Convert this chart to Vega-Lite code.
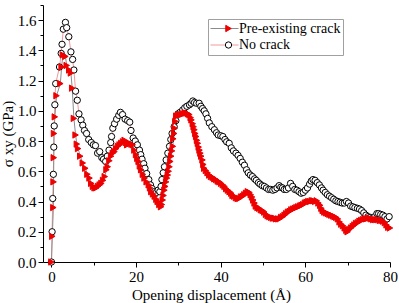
{
"$schema": "https://vega.github.io/schema/vega-lite/v6.json",
"width": 347, "height": 257,
"autosize": {"type": "none"},
"padding": {"left": 43, "top": 5, "right": 9, "bottom": 41},
"background": "white",
"config": {
  "font": "Liberation Serif",
  "view": {"stroke": null},
  "axis": {"labelFont": "Liberation Serif", "labelFontSize": 15, "labelColor": "black", "labelFlush": false, "labelOverlap": false, "titleFont": "Liberation Serif", "titleFontSize": 15, "titleFontWeight": "normal", "titleColor": "black", "domainColor": "black", "domainWidth": 1, "tickColor": "black", "tickWidth": 1, "grid": false}
},
"data": {"values": [
{"x":0.0,"y":0.0,"series":"No crack"},{"x":0.15,"y":0.2,"series":"No crack"},{"x":0.3,"y":0.42,"series":"No crack"},{"x":0.45,"y":0.58,"series":"No crack"},{"x":0.55,"y":0.76,"series":"No crack"},{"x":0.65,"y":0.9,"series":"No crack"},{"x":0.8,"y":1.04,"series":"No crack"},{"x":1.0,"y":1.18,"series":"No crack"},{"x":1.9,"y":1.29,"series":"No crack"},{"x":2.3,"y":1.38,"series":"No crack"},{"x":2.5,"y":1.44,"series":"No crack"},{"x":2.8,"y":1.54,"series":"No crack"},{"x":3.3,"y":1.585,"series":"No crack"},{"x":3.6,"y":1.55,"series":"No crack"},{"x":4.1,"y":1.49,"series":"No crack"},{"x":4.6,"y":1.39,"series":"No crack"},{"x":5.0,"y":1.34,"series":"No crack"},{"x":5.3,"y":1.27,"series":"No crack"},{"x":5.7,"y":1.13,"series":"No crack"},{"x":6.1,"y":1.07,"series":"No crack"},{"x":6.5,"y":0.98,"series":"No crack"},{"x":7.0,"y":0.94,"series":"No crack"},{"x":7.4,"y":0.905,"series":"No crack"},{"x":7.8,"y":0.87,"series":"No crack"},{"x":8.3,"y":0.85,"series":"No crack"},{"x":8.8,"y":0.81,"series":"No crack"},{"x":9.4,"y":0.79,"series":"No crack"},{"x":9.9,"y":0.775,"series":"No crack"},{"x":10.4,"y":0.77,"series":"No crack"},{"x":10.9,"y":0.72,"series":"No crack"},{"x":11.4,"y":0.73,"series":"No crack"},{"x":11.9,"y":0.69,"series":"No crack"},{"x":12.3,"y":0.68,"series":"No crack"},{"x":12.8,"y":0.665,"series":"No crack"},{"x":13.2,"y":0.7,"series":"No crack"},{"x":13.6,"y":0.74,"series":"No crack"},{"x":14.0,"y":0.79,"series":"No crack"},{"x":14.2,"y":0.83,"series":"No crack"},{"x":14.5,"y":0.885,"series":"No crack"},{"x":14.9,"y":0.915,"series":"No crack"},{"x":15.4,"y":0.945,"series":"No crack"},{"x":15.9,"y":0.97,"series":"No crack"},{"x":16.3,"y":0.99,"series":"No crack"},{"x":16.8,"y":0.975,"series":"No crack"},{"x":17.4,"y":0.945,"series":"No crack"},{"x":18.0,"y":0.935,"series":"No crack"},{"x":18.5,"y":0.925,"series":"No crack"},{"x":18.8,"y":0.87,"series":"No crack"},{"x":19.3,"y":0.82,"series":"No crack"},{"x":19.8,"y":0.8,"series":"No crack"},{"x":20.3,"y":0.775,"series":"No crack"},{"x":20.8,"y":0.74,"series":"No crack"},{"x":21.1,"y":0.71,"series":"No crack"},{"x":21.4,"y":0.68,"series":"No crack"},{"x":21.8,"y":0.65,"series":"No crack"},{"x":22.1,"y":0.62,"series":"No crack"},{"x":22.5,"y":0.585,"series":"No crack"},{"x":23.0,"y":0.545,"series":"No crack"},{"x":23.4,"y":0.51,"series":"No crack"},{"x":23.8,"y":0.485,"series":"No crack"},{"x":24.3,"y":0.465,"series":"No crack"},{"x":24.8,"y":0.46,"series":"No crack"},{"x":25.2,"y":0.475,"series":"No crack"},{"x":25.6,"y":0.465,"series":"No crack"},{"x":25.9,"y":0.5,"series":"No crack"},{"x":26.1,"y":0.545,"series":"No crack"},{"x":26.4,"y":0.59,"series":"No crack"},{"x":26.7,"y":0.63,"series":"No crack"},{"x":27.1,"y":0.675,"series":"No crack"},{"x":27.5,"y":0.72,"series":"No crack"},{"x":27.9,"y":0.765,"series":"No crack"},{"x":28.2,"y":0.81,"series":"No crack"},{"x":28.5,"y":0.85,"series":"No crack"},{"x":29.0,"y":0.895,"series":"No crack"},{"x":29.4,"y":0.935,"series":"No crack"},{"x":29.9,"y":0.98,"series":"No crack"},{"x":30.4,"y":0.99,"series":"No crack"},{"x":31.0,"y":1.005,"series":"No crack"},{"x":31.5,"y":1.02,"series":"No crack"},{"x":32.0,"y":1.03,"series":"No crack"},{"x":32.6,"y":1.04,"series":"No crack"},{"x":33.0,"y":1.05,"series":"No crack"},{"x":33.4,"y":1.065,"series":"No crack"},{"x":33.8,"y":1.055,"series":"No crack"},{"x":34.3,"y":1.05,"series":"No crack"},{"x":34.9,"y":1.05,"series":"No crack"},{"x":35.3,"y":1.03,"series":"No crack"},{"x":35.7,"y":1.015,"series":"No crack"},{"x":36.1,"y":1.0,"series":"No crack"},{"x":36.5,"y":0.98,"series":"No crack"},{"x":36.9,"y":0.95,"series":"No crack"},{"x":37.3,"y":0.92,"series":"No crack"},{"x":37.9,"y":0.895,"series":"No crack"},{"x":38.5,"y":0.875,"series":"No crack"},{"x":39.0,"y":0.855,"series":"No crack"},{"x":39.4,"y":0.84,"series":"No crack"},{"x":40.0,"y":0.835,"series":"No crack"},{"x":40.5,"y":0.83,"series":"No crack"},{"x":41.0,"y":0.81,"series":"No crack"},{"x":41.4,"y":0.795,"series":"No crack"},{"x":42.0,"y":0.785,"series":"No crack"},{"x":42.5,"y":0.755,"series":"No crack"},{"x":43.0,"y":0.735,"series":"No crack"},{"x":43.6,"y":0.72,"series":"No crack"},{"x":44.1,"y":0.705,"series":"No crack"},{"x":44.6,"y":0.685,"series":"No crack"},{"x":45.1,"y":0.66,"series":"No crack"},{"x":45.6,"y":0.64,"series":"No crack"},{"x":46.1,"y":0.61,"series":"No crack"},{"x":46.5,"y":0.59,"series":"No crack"},{"x":47.0,"y":0.575,"series":"No crack"},{"x":47.5,"y":0.565,"series":"No crack"},{"x":48.0,"y":0.55,"series":"No crack"},{"x":48.4,"y":0.54,"series":"No crack"},{"x":48.9,"y":0.525,"series":"No crack"},{"x":49.3,"y":0.515,"series":"No crack"},{"x":49.8,"y":0.505,"series":"No crack"},{"x":50.3,"y":0.5,"series":"No crack"},{"x":50.8,"y":0.49,"series":"No crack"},{"x":51.3,"y":0.48,"series":"No crack"},{"x":51.8,"y":0.48,"series":"No crack"},{"x":52.3,"y":0.475,"series":"No crack"},{"x":52.8,"y":0.48,"series":"No crack"},{"x":53.3,"y":0.49,"series":"No crack"},{"x":53.8,"y":0.505,"series":"No crack"},{"x":54.2,"y":0.495,"series":"No crack"},{"x":54.6,"y":0.49,"series":"No crack"},{"x":55.0,"y":0.48,"series":"No crack"},{"x":55.5,"y":0.48,"series":"No crack"},{"x":56.0,"y":0.49,"series":"No crack"},{"x":56.5,"y":0.52,"series":"No crack"},{"x":57.0,"y":0.5,"series":"No crack"},{"x":57.5,"y":0.48,"series":"No crack"},{"x":58.0,"y":0.475,"series":"No crack"},{"x":58.5,"y":0.465,"series":"No crack"},{"x":59.0,"y":0.455,"series":"No crack"},{"x":59.5,"y":0.46,"series":"No crack"},{"x":60.0,"y":0.475,"series":"No crack"},{"x":60.5,"y":0.49,"series":"No crack"},{"x":61.0,"y":0.515,"series":"No crack"},{"x":61.4,"y":0.535,"series":"No crack"},{"x":61.8,"y":0.545,"series":"No crack"},{"x":62.3,"y":0.54,"series":"No crack"},{"x":62.8,"y":0.525,"series":"No crack"},{"x":63.3,"y":0.51,"series":"No crack"},{"x":63.8,"y":0.49,"series":"No crack"},{"x":64.2,"y":0.475,"series":"No crack"},{"x":64.7,"y":0.46,"series":"No crack"},{"x":65.2,"y":0.445,"series":"No crack"},{"x":65.7,"y":0.435,"series":"No crack"},{"x":66.2,"y":0.425,"series":"No crack"},{"x":66.7,"y":0.415,"series":"No crack"},{"x":67.2,"y":0.405,"series":"No crack"},{"x":67.7,"y":0.4,"series":"No crack"},{"x":68.2,"y":0.395,"series":"No crack"},{"x":68.7,"y":0.39,"series":"No crack"},{"x":69.2,"y":0.39,"series":"No crack"},{"x":69.7,"y":0.4,"series":"No crack"},{"x":70.2,"y":0.39,"series":"No crack"},{"x":70.7,"y":0.37,"series":"No crack"},{"x":71.2,"y":0.365,"series":"No crack"},{"x":71.7,"y":0.36,"series":"No crack"},{"x":72.3,"y":0.355,"series":"No crack"},{"x":72.8,"y":0.35,"series":"No crack"},{"x":73.3,"y":0.34,"series":"No crack"},{"x":73.8,"y":0.325,"series":"No crack"},{"x":74.3,"y":0.31,"series":"No crack"},{"x":74.8,"y":0.3,"series":"No crack"},{"x":75.3,"y":0.295,"series":"No crack"},{"x":75.9,"y":0.29,"series":"No crack"},{"x":76.4,"y":0.3,"series":"No crack"},{"x":76.9,"y":0.32,"series":"No crack"},{"x":77.3,"y":0.32,"series":"No crack"},{"x":77.8,"y":0.315,"series":"No crack"},{"x":78.3,"y":0.31,"series":"No crack"},{"x":78.8,"y":0.3,"series":"No crack"},{"x":79.3,"y":0.285,"series":"No crack"},{"x":79.8,"y":0.3,"series":"No crack"},
{"x":0.0,"y":0.0,"series":"Pre-existing crack"},{"x":0.2,"y":0.17,"series":"Pre-existing crack"},{"x":0.45,"y":0.36,"series":"Pre-existing crack"},{"x":0.5,"y":0.53,"series":"Pre-existing crack"},{"x":0.55,"y":0.69,"series":"Pre-existing crack"},{"x":0.6,"y":0.85,"series":"Pre-existing crack"},{"x":0.8,"y":0.96,"series":"Pre-existing crack"},{"x":1.2,"y":1.1,"series":"Pre-existing crack"},{"x":2.1,"y":1.18,"series":"Pre-existing crack"},{"x":2.4,"y":1.29,"series":"Pre-existing crack"},{"x":2.7,"y":1.37,"series":"Pre-existing crack"},{"x":3.3,"y":1.36,"series":"Pre-existing crack"},{"x":3.6,"y":1.3,"series":"Pre-existing crack"},{"x":4.2,"y":1.27,"series":"Pre-existing crack"},{"x":4.6,"y":1.25,"series":"Pre-existing crack"},{"x":4.9,"y":1.15,"series":"Pre-existing crack"},{"x":5.3,"y":0.95,"series":"Pre-existing crack"},{"x":5.7,"y":0.84,"series":"Pre-existing crack"},{"x":6.0,"y":0.78,"series":"Pre-existing crack"},{"x":6.3,"y":0.75,"series":"Pre-existing crack"},{"x":6.8,"y":0.7,"series":"Pre-existing crack"},{"x":7.4,"y":0.655,"series":"Pre-existing crack"},{"x":8.0,"y":0.62,"series":"Pre-existing crack"},{"x":8.5,"y":0.58,"series":"Pre-existing crack"},{"x":9.0,"y":0.555,"series":"Pre-existing crack"},{"x":9.4,"y":0.52,"series":"Pre-existing crack"},{"x":9.8,"y":0.5,"series":"Pre-existing crack"},{"x":10.2,"y":0.49,"series":"Pre-existing crack"},{"x":10.6,"y":0.49,"series":"Pre-existing crack"},{"x":11.0,"y":0.5,"series":"Pre-existing crack"},{"x":11.4,"y":0.51,"series":"Pre-existing crack"},{"x":11.8,"y":0.52,"series":"Pre-existing crack"},{"x":12.2,"y":0.54,"series":"Pre-existing crack"},{"x":12.6,"y":0.565,"series":"Pre-existing crack"},{"x":13.0,"y":0.61,"series":"Pre-existing crack"},{"x":13.3,"y":0.63,"series":"Pre-existing crack"},{"x":13.7,"y":0.67,"series":"Pre-existing crack"},{"x":14.1,"y":0.7,"series":"Pre-existing crack"},{"x":14.5,"y":0.72,"series":"Pre-existing crack"},{"x":14.9,"y":0.73,"series":"Pre-existing crack"},{"x":15.3,"y":0.75,"series":"Pre-existing crack"},{"x":15.7,"y":0.765,"series":"Pre-existing crack"},{"x":16.1,"y":0.775,"series":"Pre-existing crack"},{"x":16.5,"y":0.785,"series":"Pre-existing crack"},{"x":16.9,"y":0.795,"series":"Pre-existing crack"},{"x":17.3,"y":0.805,"series":"Pre-existing crack"},{"x":17.6,"y":0.79,"series":"Pre-existing crack"},{"x":17.9,"y":0.775,"series":"Pre-existing crack"},{"x":18.2,"y":0.785,"series":"Pre-existing crack"},{"x":18.5,"y":0.785,"series":"Pre-existing crack"},{"x":18.9,"y":0.78,"series":"Pre-existing crack"},{"x":19.2,"y":0.775,"series":"Pre-existing crack"},{"x":19.6,"y":0.74,"series":"Pre-existing crack"},{"x":20.0,"y":0.71,"series":"Pre-existing crack"},{"x":20.3,"y":0.685,"series":"Pre-existing crack"},{"x":20.6,"y":0.665,"series":"Pre-existing crack"},{"x":20.9,"y":0.635,"series":"Pre-existing crack"},{"x":21.2,"y":0.61,"series":"Pre-existing crack"},{"x":21.6,"y":0.58,"series":"Pre-existing crack"},{"x":22.0,"y":0.555,"series":"Pre-existing crack"},{"x":22.5,"y":0.53,"series":"Pre-existing crack"},{"x":23.0,"y":0.51,"series":"Pre-existing crack"},{"x":23.3,"y":0.49,"series":"Pre-existing crack"},{"x":23.6,"y":0.465,"series":"Pre-existing crack"},{"x":24.0,"y":0.45,"series":"Pre-existing crack"},{"x":24.4,"y":0.435,"series":"Pre-existing crack"},{"x":24.8,"y":0.415,"series":"Pre-existing crack"},{"x":25.1,"y":0.4,"series":"Pre-existing crack"},{"x":25.5,"y":0.38,"series":"Pre-existing crack"},{"x":25.9,"y":0.365,"series":"Pre-existing crack"},{"x":26.1,"y":0.38,"series":"Pre-existing crack"},{"x":26.3,"y":0.41,"series":"Pre-existing crack"},{"x":26.5,"y":0.44,"series":"Pre-existing crack"},{"x":26.7,"y":0.475,"series":"Pre-existing crack"},{"x":26.9,"y":0.5,"series":"Pre-existing crack"},{"x":27.1,"y":0.53,"series":"Pre-existing crack"},{"x":27.3,"y":0.555,"series":"Pre-existing crack"},{"x":27.5,"y":0.575,"series":"Pre-existing crack"},{"x":27.7,"y":0.6,"series":"Pre-existing crack"},{"x":27.9,"y":0.63,"series":"Pre-existing crack"},{"x":28.1,"y":0.665,"series":"Pre-existing crack"},{"x":28.3,"y":0.7,"series":"Pre-existing crack"},{"x":28.5,"y":0.735,"series":"Pre-existing crack"},{"x":28.7,"y":0.765,"series":"Pre-existing crack"},{"x":28.8,"y":0.815,"series":"Pre-existing crack"},{"x":29.0,"y":0.85,"series":"Pre-existing crack"},{"x":29.1,"y":0.885,"series":"Pre-existing crack"},{"x":29.3,"y":0.93,"series":"Pre-existing crack"},{"x":29.5,"y":0.965,"series":"Pre-existing crack"},{"x":29.9,"y":0.97,"series":"Pre-existing crack"},{"x":30.3,"y":0.975,"series":"Pre-existing crack"},{"x":30.7,"y":0.975,"series":"Pre-existing crack"},{"x":31.1,"y":0.98,"series":"Pre-existing crack"},{"x":31.5,"y":0.985,"series":"Pre-existing crack"},{"x":31.9,"y":0.985,"series":"Pre-existing crack"},{"x":32.3,"y":0.98,"series":"Pre-existing crack"},{"x":32.6,"y":0.975,"series":"Pre-existing crack"},{"x":32.9,"y":0.955,"series":"Pre-existing crack"},{"x":33.1,"y":0.94,"series":"Pre-existing crack"},{"x":33.4,"y":0.915,"series":"Pre-existing crack"},{"x":33.6,"y":0.895,"series":"Pre-existing crack"},{"x":33.8,"y":0.875,"series":"Pre-existing crack"},{"x":34.0,"y":0.85,"series":"Pre-existing crack"},{"x":34.2,"y":0.83,"series":"Pre-existing crack"},{"x":34.4,"y":0.805,"series":"Pre-existing crack"},{"x":34.6,"y":0.785,"series":"Pre-existing crack"},{"x":34.8,"y":0.76,"series":"Pre-existing crack"},{"x":35.0,"y":0.74,"series":"Pre-existing crack"},{"x":35.2,"y":0.72,"series":"Pre-existing crack"},{"x":35.4,"y":0.7,"series":"Pre-existing crack"},{"x":35.7,"y":0.675,"series":"Pre-existing crack"},{"x":35.9,"y":0.645,"series":"Pre-existing crack"},{"x":36.1,"y":0.62,"series":"Pre-existing crack"},{"x":36.5,"y":0.605,"series":"Pre-existing crack"},{"x":36.9,"y":0.59,"series":"Pre-existing crack"},{"x":37.3,"y":0.575,"series":"Pre-existing crack"},{"x":37.7,"y":0.565,"series":"Pre-existing crack"},{"x":38.1,"y":0.56,"series":"Pre-existing crack"},{"x":38.5,"y":0.55,"series":"Pre-existing crack"},{"x":38.9,"y":0.545,"series":"Pre-existing crack"},{"x":39.3,"y":0.535,"series":"Pre-existing crack"},{"x":39.7,"y":0.53,"series":"Pre-existing crack"},{"x":40.1,"y":0.52,"series":"Pre-existing crack"},{"x":40.5,"y":0.51,"series":"Pre-existing crack"},{"x":40.9,"y":0.5,"series":"Pre-existing crack"},{"x":41.3,"y":0.485,"series":"Pre-existing crack"},{"x":41.7,"y":0.475,"series":"Pre-existing crack"},{"x":42.1,"y":0.465,"series":"Pre-existing crack"},{"x":42.5,"y":0.455,"series":"Pre-existing crack"},{"x":42.8,"y":0.44,"series":"Pre-existing crack"},{"x":43.2,"y":0.435,"series":"Pre-existing crack"},{"x":43.6,"y":0.425,"series":"Pre-existing crack"},{"x":44.0,"y":0.42,"series":"Pre-existing crack"},{"x":44.4,"y":0.42,"series":"Pre-existing crack"},{"x":44.8,"y":0.43,"series":"Pre-existing crack"},{"x":45.2,"y":0.435,"series":"Pre-existing crack"},{"x":45.6,"y":0.445,"series":"Pre-existing crack"},{"x":46.0,"y":0.455,"series":"Pre-existing crack"},{"x":46.4,"y":0.465,"series":"Pre-existing crack"},{"x":46.8,"y":0.46,"series":"Pre-existing crack"},{"x":47.1,"y":0.445,"series":"Pre-existing crack"},{"x":47.4,"y":0.43,"series":"Pre-existing crack"},{"x":47.7,"y":0.41,"series":"Pre-existing crack"},{"x":48.0,"y":0.39,"series":"Pre-existing crack"},{"x":48.3,"y":0.37,"series":"Pre-existing crack"},{"x":48.7,"y":0.36,"series":"Pre-existing crack"},{"x":49.1,"y":0.355,"series":"Pre-existing crack"},{"x":49.5,"y":0.345,"series":"Pre-existing crack"},{"x":49.9,"y":0.34,"series":"Pre-existing crack"},{"x":50.3,"y":0.33,"series":"Pre-existing crack"},{"x":50.7,"y":0.315,"series":"Pre-existing crack"},{"x":51.1,"y":0.305,"series":"Pre-existing crack"},{"x":51.5,"y":0.3,"series":"Pre-existing crack"},{"x":51.9,"y":0.295,"series":"Pre-existing crack"},{"x":52.3,"y":0.29,"series":"Pre-existing crack"},{"x":52.7,"y":0.29,"series":"Pre-existing crack"},{"x":53.1,"y":0.285,"series":"Pre-existing crack"},{"x":53.5,"y":0.285,"series":"Pre-existing crack"},{"x":53.9,"y":0.285,"series":"Pre-existing crack"},{"x":54.3,"y":0.295,"series":"Pre-existing crack"},{"x":54.7,"y":0.3,"series":"Pre-existing crack"},{"x":55.1,"y":0.31,"series":"Pre-existing crack"},{"x":55.5,"y":0.32,"series":"Pre-existing crack"},{"x":55.9,"y":0.33,"series":"Pre-existing crack"},{"x":56.3,"y":0.335,"series":"Pre-existing crack"},{"x":56.7,"y":0.345,"series":"Pre-existing crack"},{"x":57.1,"y":0.35,"series":"Pre-existing crack"},{"x":57.5,"y":0.355,"series":"Pre-existing crack"},{"x":57.9,"y":0.36,"series":"Pre-existing crack"},{"x":58.3,"y":0.365,"series":"Pre-existing crack"},{"x":58.7,"y":0.37,"series":"Pre-existing crack"},{"x":59.1,"y":0.375,"series":"Pre-existing crack"},{"x":59.5,"y":0.38,"series":"Pre-existing crack"},{"x":59.9,"y":0.39,"series":"Pre-existing crack"},{"x":60.3,"y":0.395,"series":"Pre-existing crack"},{"x":60.7,"y":0.4,"series":"Pre-existing crack"},{"x":61.1,"y":0.4,"series":"Pre-existing crack"},{"x":61.5,"y":0.405,"series":"Pre-existing crack"},{"x":61.9,"y":0.405,"series":"Pre-existing crack"},{"x":62.3,"y":0.4,"series":"Pre-existing crack"},{"x":62.7,"y":0.405,"series":"Pre-existing crack"},{"x":63.1,"y":0.39,"series":"Pre-existing crack"},{"x":63.5,"y":0.375,"series":"Pre-existing crack"},{"x":63.8,"y":0.355,"series":"Pre-existing crack"},{"x":64.1,"y":0.34,"series":"Pre-existing crack"},{"x":64.5,"y":0.33,"series":"Pre-existing crack"},{"x":64.9,"y":0.325,"series":"Pre-existing crack"},{"x":65.3,"y":0.32,"series":"Pre-existing crack"},{"x":65.7,"y":0.315,"series":"Pre-existing crack"},{"x":66.1,"y":0.31,"series":"Pre-existing crack"},{"x":66.5,"y":0.305,"series":"Pre-existing crack"},{"x":66.9,"y":0.3,"series":"Pre-existing crack"},{"x":67.3,"y":0.295,"series":"Pre-existing crack"},{"x":67.7,"y":0.285,"series":"Pre-existing crack"},{"x":68.1,"y":0.265,"series":"Pre-existing crack"},{"x":68.5,"y":0.25,"series":"Pre-existing crack"},{"x":68.9,"y":0.24,"series":"Pre-existing crack"},{"x":69.3,"y":0.225,"series":"Pre-existing crack"},{"x":69.7,"y":0.21,"series":"Pre-existing crack"},{"x":70.0,"y":0.2,"series":"Pre-existing crack"},{"x":70.4,"y":0.215,"series":"Pre-existing crack"},{"x":70.8,"y":0.225,"series":"Pre-existing crack"},{"x":71.2,"y":0.235,"series":"Pre-existing crack"},{"x":71.6,"y":0.245,"series":"Pre-existing crack"},{"x":72.0,"y":0.255,"series":"Pre-existing crack"},{"x":72.4,"y":0.26,"series":"Pre-existing crack"},{"x":72.8,"y":0.27,"series":"Pre-existing crack"},{"x":73.2,"y":0.275,"series":"Pre-existing crack"},{"x":73.6,"y":0.28,"series":"Pre-existing crack"},{"x":74.0,"y":0.285,"series":"Pre-existing crack"},{"x":74.4,"y":0.285,"series":"Pre-existing crack"},{"x":74.8,"y":0.29,"series":"Pre-existing crack"},{"x":75.2,"y":0.29,"series":"Pre-existing crack"},{"x":75.6,"y":0.285,"series":"Pre-existing crack"},{"x":76.0,"y":0.28,"series":"Pre-existing crack"},{"x":76.4,"y":0.28,"series":"Pre-existing crack"},{"x":76.8,"y":0.28,"series":"Pre-existing crack"},{"x":77.2,"y":0.28,"series":"Pre-existing crack"},{"x":77.6,"y":0.275,"series":"Pre-existing crack"},{"x":78.0,"y":0.275,"series":"Pre-existing crack"},{"x":78.4,"y":0.27,"series":"Pre-existing crack"},{"x":78.8,"y":0.26,"series":"Pre-existing crack"},{"x":79.2,"y":0.245,"series":"Pre-existing crack"},{"x":79.6,"y":0.23,"series":"Pre-existing crack"},{"x":80.0,"y":0.225,"series":"Pre-existing crack"}
]},
"resolve": {"axis": {"x": "independent", "y": "independent"}},
"layer": [
  {
    "mark": {"type": "line", "strokeWidth": 1},
    "encoding": {
      "x": {"field": "x", "type": "quantitative", "scale": {"domain": [-2, 80], "nice": false, "zero": false},
        "axis": {"orient": "bottom", "values": [0, 20, 40, 60, 80], "tickSize": 5, "labelPadding": 2, "title": "Opening displacement (Å)", "titlePadding": 3, "titleX": 168}},
      "y": {"field": "y", "type": "quantitative", "scale": {"domain": [0, 1.7], "nice": false, "zero": false},
        "axis": {"orient": "left", "values": [0, 0.2, 0.4, 0.6, 0.8, 1.0, 1.2, 1.4, 1.6], "format": ".1f", "tickSize": 5, "labelPadding": 2, "title": "σ xy (GPa)", "titlePadding": 2}},
      "color": {"field": "series", "type": "nominal", "sort": ["Pre-existing crack", "No crack"],
        "scale": {"range": ["#8c8c8c", "#f29a9a"]},
        "legend": {"orient": "none", "legendX": 165, "legendY": 14, "title": null, "symbolType": "stroke", "symbolSize": 784, "symbolStrokeWidth": 1, "labelFont": "Liberation Serif", "labelFontSize": 14, "labelColor": "black", "labelOffset": 0, "labelLimit": 0, "padding": 2, "rowPadding": 1.5, "strokeColor": "#a0a0a0", "clipHeight": 15}}
    }
  },
  {
    "mark": {"type": "point", "opacity": 1, "strokeWidth": 1, "size": 40},
    "encoding": {
      "x": {"field": "x", "type": "quantitative", "axis": {"orient": "bottom", "values": [10, 30, 50, 70], "tickSize": 3, "labels": false, "domain": false, "title": null}},
      "y": {"field": "y", "type": "quantitative", "axis": {"orient": "left", "values": [0.1, 0.3, 0.5, 0.7, 0.9, 1.1, 1.3, 1.5, 1.7], "tickSize": 3, "labels": false, "domain": false, "title": null}},
      "shape": {"field": "series", "type": "nominal", "scale": {"domain": ["Pre-existing crack", "No crack"], "range": ["triangle-right", "circle"]},
        "legend": {"orient": "none", "legendX": 176.5, "legendY": 14, "title": null, "symbolSize": 40, "symbolStrokeWidth": 1, "labelFont": "Liberation Serif", "labelFontSize": 14, "labelOpacity": 0, "labelLimit": 0, "padding": 2, "rowPadding": 1.5, "clipHeight": 15}},
      "fill": {"field": "series", "type": "nominal", "scale": {"domain": ["Pre-existing crack", "No crack"], "range": ["#ee0000", "#ffffff"]},
        "legend": {"orient": "none", "legendX": 176.5, "legendY": 14, "title": null, "symbolSize": 40, "symbolStrokeWidth": 1, "labelFont": "Liberation Serif", "labelFontSize": 14, "labelOpacity": 0, "labelLimit": 0, "padding": 2, "rowPadding": 1.5, "clipHeight": 15}},
      "stroke": {"field": "series", "type": "nominal", "scale": {"domain": ["Pre-existing crack", "No crack"], "range": ["#ee0000", "#000000"]},
        "legend": {"orient": "none", "legendX": 176.5, "legendY": 14, "title": null, "symbolSize": 40, "symbolStrokeWidth": 1, "labelFont": "Liberation Serif", "labelFontSize": 14, "labelOpacity": 0, "labelLimit": 0, "padding": 2, "rowPadding": 1.5, "clipHeight": 15}}
    }
  }
]
}
